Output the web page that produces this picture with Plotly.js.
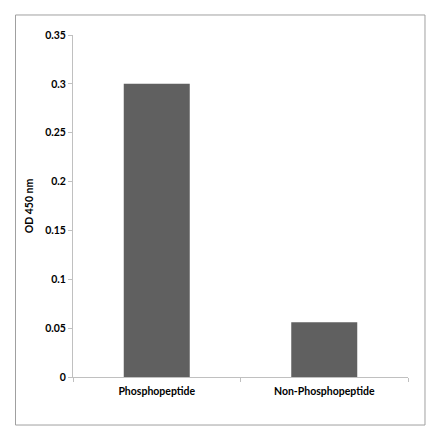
<!DOCTYPE html>
<html><head><meta charset="utf-8">
<script src="https://cdn.plot.ly/plotly-3.0.1.min.js"></script>
<style>html,body{margin:0;padding:0;background:#fff}#chart{width:440px;height:441px}</style>
</head><body><div id="chart"></div>
<script>
var categories = ["Phosphopeptide", "Non-Phosphopeptide"];
var odValues = [0.300, 0.056];
var yTickVals = [0, 0.05, 0.1, 0.15, 0.2, 0.25, 0.3, 0.35];
var yTickText = ["0", "0.05", "0.1", "0.15", "0.2", "0.25", "0.3", "0.35"];
var yTitle = "OD 450 nm";

var font = {family: "Lato, 'Open Sans', sans-serif", size: 10.5, color: "#000"};

Plotly.newPlot("chart", [{
  type: "bar",
  x: categories,
  y: odValues,
  marker: {color: "#606060", line: {width: 0}},
  hoverinfo: "none"
}], {
  width: 440, height: 441,
  margin: {l: 73, r: 32, t: 35, b: 64},
  paper_bgcolor: "#fff", plot_bgcolor: "#fff",
  bargap: 0.606,
  showlegend: false,
  font: font,
  xaxis: {
    type: "category",
    showline: true, linecolor: "#c0c0c0", linewidth: 1,
    ticks: "outside", tickson: "boundaries", ticklen: 4, tickcolor: "#c0c0c0",
    ticklabelstandoff: 4,
    showgrid: false, zeroline: false,
    tickfont: {family: font.family, size: 10.5, color: "#000", weight: "bold"}
  },
  yaxis: {
    range: [0, 0.35],
    tickvals: yTickVals, ticktext: yTickText,
    showline: true, linecolor: "#c0c0c0", linewidth: 1,
    ticks: "outside", ticklen: 4, tickcolor: "#c0c0c0",
    showgrid: false, zeroline: false,
    tickfont: {family: font.family, size: 10.5, color: "#000", weight: "bold"},
    title: {text: yTitle, standoff: 9, font: {family: font.family, size: 10.5, color: "#000", weight: "bold"}}
  },
  shapes: [{
    type: "rect", xref: "paper", yref: "paper",
    x0: -0.1716, x1: 1.0507, y0: -0.1404, y1: 1.0585,
    line: {color: "#a0a0a0", width: 1}, fillcolor: "rgba(0,0,0,0)", layer: "below"
  }]
}, {staticPlot: true});
</script></body></html>
